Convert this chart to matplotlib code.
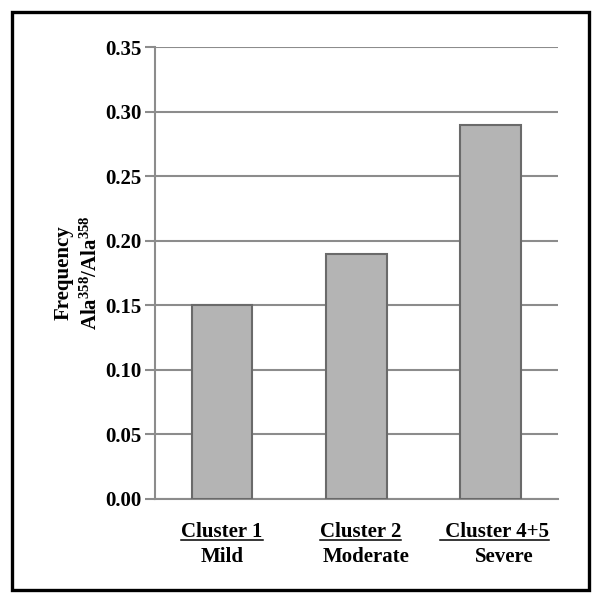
import matplotlib
matplotlib.use("Agg")
import matplotlib.pyplot as plt
from matplotlib.lines import Line2D
from matplotlib.patches import Rectangle

plt.rcParams['font.family'] = ['Liberation Serif', 'DejaVu Serif']
plt.rcParams['font.weight'] = 'bold'
plt.rcParams['mathtext.fontset'] = 'custom'
plt.rcParams['mathtext.rm'] = 'Liberation Serif:bold'
plt.rcParams['mathtext.bf'] = 'Liberation Serif:bold'

# data
clusters = ["Cluster 1", "Cluster 2", " Cluster 4+5"]
severity = ["Mild", "Moderate", "Severe"]
frequency = [0.15, 0.19, 0.29]
yticks = [0.00, 0.05, 0.10, 0.15, 0.20, 0.25, 0.30, 0.35]

# small horizontal nudges (points) seen in the original labels
top_shift = [0, 3, 3]
bottom_shift = [0, 7, 10]

fs = 15

fig = plt.figure(figsize=(6.01, 6.03), dpi=100)
ax = fig.add_axes([0.258, 0.1725, 0.670, 0.7495])

x = range(len(frequency))
ax.bar(x, frequency, width=0.45, color="#b4b4b4", edgecolor="#6a6a6a", linewidth=1.5, zorder=3)

ax.set_xlim(-0.5, 2.5)
ax.set_ylim(0, 0.35)
ax.set_yticks(yticks)
ax.set_yticklabels(["%.2f" % v for v in yticks], fontsize=fs, fontweight="bold")
ax.set_xticks([])
ax.yaxis.grid(True, color="#8c8c8c", linewidth=1.5, zorder=0)
ax.tick_params(axis="y", length=7, width=1.5, color="#8c8c8c", pad=3)
for side in ["top", "right"]:
    ax.spines[side].set_visible(False)
ax.spines["left"].set_color("#8c8c8c")
ax.spines["left"].set_linewidth(1.5)
ax.spines["bottom"].set_color("#8c8c8c")
ax.spines["bottom"].set_linewidth(1.5)
ax.set_axisbelow(True)

ax.set_ylabel("Frequency\n" + r"$\mathbf{Ala^{358}/Ala^{358}}$", fontsize=fs,
              fontweight="bold", labelpad=2, linespacing=1.45)

top_texts = []
for i, (c, s) in enumerate(zip(clusters, severity)):
    t = ax.annotate(c, xy=(i, 0), xycoords=("data", "axes fraction"),
                    xytext=(top_shift[i], -24), textcoords="offset points",
                    ha="center", va="center", fontsize=fs, fontweight="bold")
    top_texts.append(t)
    ax.annotate(s, xy=(i, 0), xycoords=("data", "axes fraction"),
                xytext=(bottom_shift[i], -42), textcoords="offset points",
                ha="center", va="center", fontsize=fs, fontweight="bold")

# underline the cluster names
fig.canvas.draw()
r = fig.canvas.get_renderer()
W, H = fig.get_size_inches() * fig.dpi
for t in top_texts:
    bb = t.get_window_extent(r)
    yy = (bb.y0 + 2.5) / H
    fig.add_artist(Line2D([bb.x0 / W, bb.x1 / W], [yy, yy], color="black", linewidth=1.1))

# outer frame
fig.add_artist(Rectangle((12 / 601, 1 - 590 / 603), 577 / 601, 578 / 603,
                         transform=fig.transFigure, fill=False, edgecolor="black", linewidth=2.4))

fig.savefig("out.png", dpi=100)
